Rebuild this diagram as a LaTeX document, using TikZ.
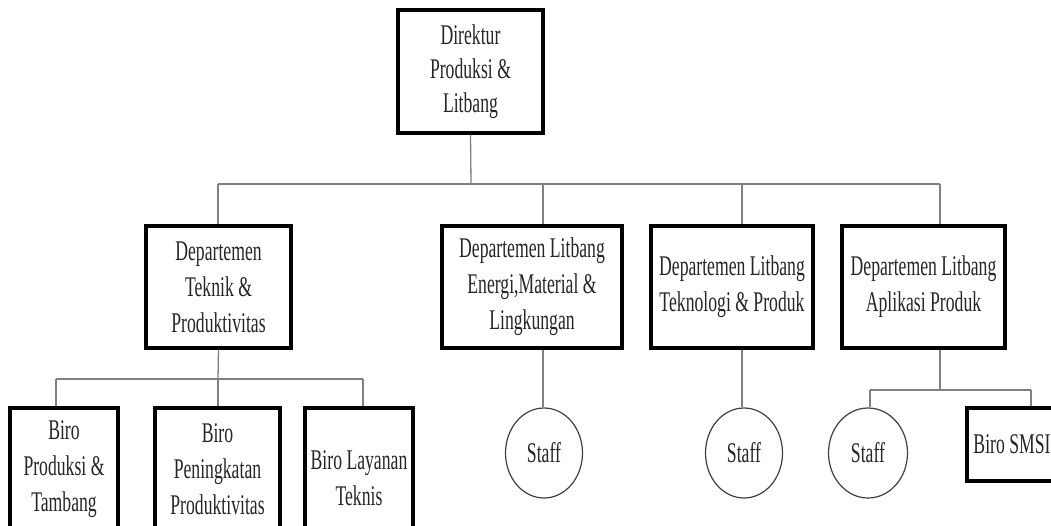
\documentclass[tikz,border=0pt]{standalone}
\usepackage{fontspec}
\newfontfamily\orgfont[FakeStretch=0.62]{Liberation Serif}
\usetikzlibrary{shapes.geometric}
\begin{document}
\begin{tikzpicture}[x=1pt,y=-1pt,
  box/.style={draw=black, line width=3.2pt, rectangle, inner sep=0pt, align=center,
    font=\orgfont\fontsize{28.5}{36}\selectfont, text=black!85},
  staffnode/.style={draw=black!75, line width=1.2pt, ellipse, inner sep=0pt,
    minimum width=77pt, minimum height=90pt,
    font=\orgfont\fontsize{28.5}{36}\selectfont, text=black!85},
  conn/.style={draw=black!50, line width=1.3pt}]
\useasboundingbox (0,0) rectangle (1051,525);
\fill[white] (0,0) rectangle (1051,525);
\clip (0,0) rectangle (1051,525);

% nodes
\node[box, minimum width=145pt, minimum height=123pt,
  font=\orgfont\fontsize{28.5}{34}\selectfont] (dir) at (470.5,71.5) {Direktur\\Produksi \&\\Litbang};
\node[box, minimum width=145pt, minimum height=122pt] (d1) at (218.5,287) {Departemen\\Teknik \&\\Produktivitas};
\node[box, minimum width=180pt, minimum height=122pt] (d2) at (532,287) {Departemen Litbang\\Energi,Material \&\\Lingkungan};
\node[box, minimum width=162pt, minimum height=122pt] (d3) at (732,287) {Departemen Litbang\\Teknologi \& Produk};
\node[box, minimum width=163pt, minimum height=122pt] (d4) at (923.5,287) {Departemen Litbang\\Aplikasi Produk};

\node[box, minimum width=108pt, minimum height=122pt] (b1) at (64,469) {Biro\\Produksi \&\\Tambang};
\node[box, minimum width=125pt, minimum height=122pt] (b2) at (217.5,469) {Biro\\Peningkatan\\Produktivitas};
\node[box, minimum width=108pt, minimum height=140pt] (b3) at (359,478) {Biro Layanan\\Teknis};

\node[staffnode] (st1) at (544,453) {Staff};
\node[staffnode] (st2) at (744,453) {Staff};
\node[staffnode, minimum width=79pt] (st3) at (868,453) {Staff};
\node[box, minimum width=90pt, minimum height=73pt] (smsi) at (1012,444.5) {Biro SMSI};

% connector coordinates
\coordinate (bus) at (471,184);
\coordinate (x1) at (218,184);
\coordinate (x2) at (543,184);
\coordinate (x3) at (742,184);
\coordinate (x4) at (940,184);
\coordinate (bus2) at (218,379);
\coordinate (y1) at (56,379);
\coordinate (y3) at (363,379);
\coordinate (bus3) at (940,390);
\coordinate (z1) at (870,390);
\coordinate (z2) at (1031,390);

% top level
\draw[conn] (dir.south) -- (bus);
\draw[conn] (x1) -- (x4);
\draw[conn] (x1) -- (x1 |- d1.north);
\draw[conn] (x2) -- (x2 |- d2.north);
\draw[conn] (x3) -- (x3 |- d3.north);
\draw[conn] (x4) -- (x4 |- d4.north);

% department 1
\draw[conn] (d1.south) -- (bus2);
\draw[conn] (y1) -- (y3);
\draw[conn] (y1) -- (y1 |- b1.north);
\draw[conn] (bus2) -- (bus2 |- b2.north);
\draw[conn] (y3) -- (y3 |- b3.north);

% departments 2 and 3
\draw[conn] (x2 |- d2.south) -- (x2 |- st1.north);
\draw[conn] (x3 |- d3.south) -- (x3 |- st2.north);

% department 4
\draw[conn] (x4 |- d4.south) -- (bus3);
\draw[conn] (z1) -- (z2);
\draw[conn] (z1) -- (z1 |- st3.north);
\draw[conn] (z2) -- (z2 |- smsi.north);
\end{tikzpicture}
\end{document}
